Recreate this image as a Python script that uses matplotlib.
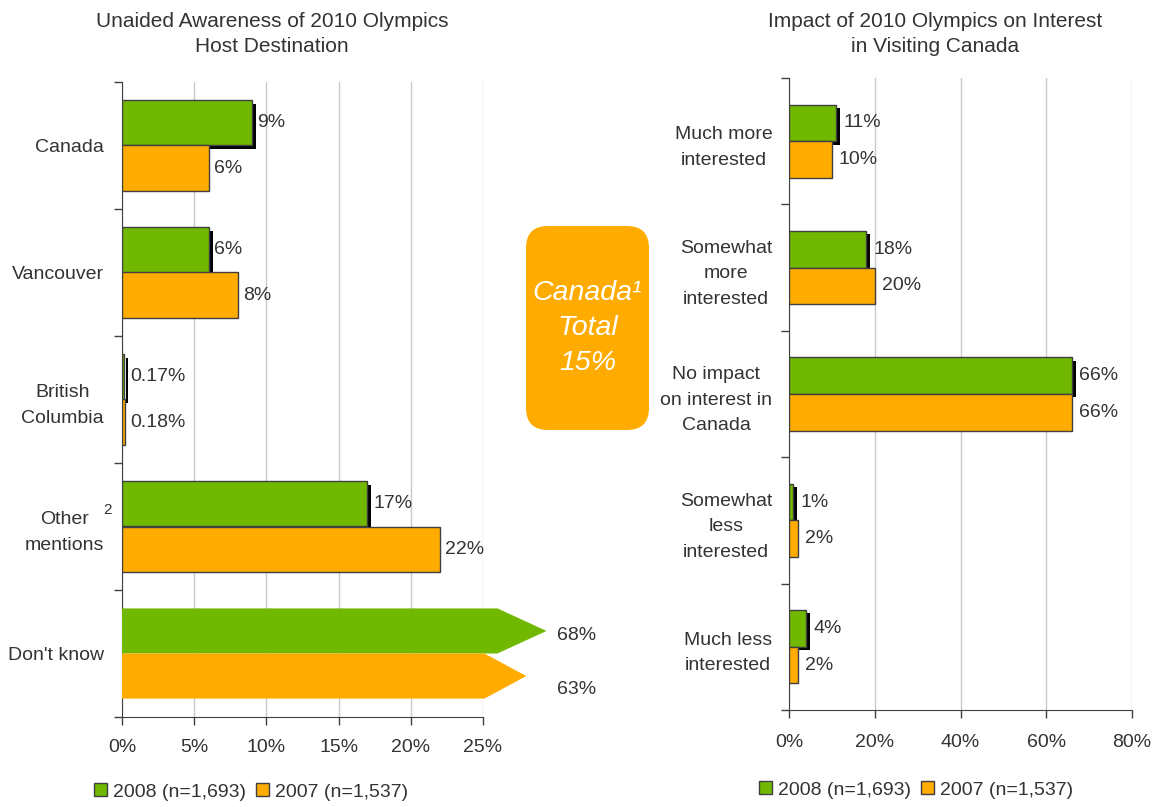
import numpy as np
import matplotlib
matplotlib.use('Agg')
import matplotlib.pyplot as plt
import matplotlib.patheffects as pe
from matplotlib.patches import Patch, Polygon, FancyBboxPatch

plt.rcParams['font.family'] = ['Liberation Sans', 'DejaVu Sans']

GREEN = '#70B900'
ORANGE = '#FFAB00'
EDGE = '#404040'
TXT = '#333333'
GRID = '#C8C8C8'

# Левая панель: спонтанная осведомлённость
left_cats = ['Canada', 'Vancouver', 'British\nColumbia', 'Other\nmentions', "Don't know"]
left_2008 = [9, 6, 0.17, 17, 68]
left_2007 = [6, 8, 0.18, 22, 63]
left_ticks = [0, 5, 10, 15, 20, 25]

# Правая панель: влияние Олимпиады на интерес
right_cats = ['Much more\ninterested', 'Somewhat\nmore\ninterested',
              'No impact\non interest in\nCanada', 'Somewhat\nless\ninterested',
              'Much less\ninterested']
right_2008 = [11, 18, 66, 1, 4]
right_2007 = [10, 20, 66, 2, 2]
right_ticks = [0, 20, 40, 60, 80]

series = ['2008 (n=1,693)', '2007 (n=1,537)']
canada_total = 15

# стрелки для значений за пределами оси: (выход тела за ось, длина наконечника)
ARROW = [(1.0, 3.4), (0.1, 2.9)]
ARROW_LABEL_DY = [-3, -10]


def panel(ax, cats, v08, v07, ticks, bar_h, ypad, xpad, lab_off):
    n = len(cats)
    y = np.arange(n)
    xmax = ticks[-1]
    ax.set_xlim(0, xmax)
    ax.set_ylim(n - 0.5, -0.5)
    shadow = [pe.SimplePatchShadow(offset=(2.8, -2.4), shadow_rgbFace='black', alpha=1.0),
              pe.Normal()]
    broken = []
    for k, (vals, off, col, fx) in enumerate(((v08, -bar_h / 2, GREEN, shadow),
                                              (v07, bar_h / 2, ORANGE, []))):
        vals = np.asarray(vals, float)
        inside = vals <= xmax
        ax.barh(y[inside] + off, vals[inside], height=bar_h, color=col,
                edgecolor=EDGE, lw=1, path_effects=fx, zorder=3)
        for yi, v in zip(y[inside], vals[inside]):
            ax.annotate(f'{v:g}%', (v, yi + off), xytext=(lab_off, 0),
                        textcoords='offset points', va='center', ha='left',
                        fontsize=14, color=TXT)
        for yi, v in zip(y[~inside], vals[~inside]):
            body = xmax + ARROW[k][0]
            tip = body + ARROW[k][1]
            yc = yi + off
            y0, y1 = yc - bar_h / 2, yc + bar_h / 2
            ax.add_patch(Polygon([(0, y0), (body, y0), (tip, yc), (body, y1), (0, y1)],
                                 closed=True, fc=col, ec='none', clip_on=False, zorder=3))
            broken.append((tip, yc, v, k))
    if broken:
        lx = max(b[0] for b in broken) + 0.7
        for tip, yc, v, k in broken:
            ax.annotate(f'{v:g}%', (lx, yc), xytext=(0, ARROW_LABEL_DY[k]),
                        textcoords='offset points', va='center', ha='left',
                        fontsize=14, color=TXT, annotation_clip=False)

    ax.set_yticks(np.arange(n + 1) - 0.5)
    ax.set_yticklabels([])
    ax.tick_params(axis='y', which='major', length=6, width=1, color=EDGE, direction='out')
    ax.set_yticks(y, minor=True)
    ax.set_yticklabels(cats, minor=True, fontsize=14, color=TXT,
                       multialignment='center', linespacing=1.65)
    ax.tick_params(axis='y', which='minor', length=0, pad=ypad)
    ax.set_xticks(ticks)
    ax.set_xticklabels([f'{t}%' for t in ticks], fontsize=14, color=TXT)
    ax.tick_params(axis='x', length=6, width=1, color=EDGE, pad=xpad)
    ax.grid(axis='x', color=GRID, lw=1)
    ax.set_axisbelow(True)
    for s in ['top', 'right']:
        ax.spines[s].set_visible(False)
    for s in ['left', 'bottom']:
        ax.spines[s].set_color(EDGE)


fig = plt.figure(figsize=(11.7, 8.07), dpi=100)
ax1 = fig.add_axes([122 / 1170, 1 - 717 / 807, 361 / 1170, 635 / 807])
ax2 = fig.add_axes([789 / 1170, 1 - 710 / 807, 343 / 1170, 632 / 807])

panel(ax1, left_cats, left_2008, left_2007, left_ticks, 0.355, 13, 10, 4)
panel(ax2, right_cats, right_2008, right_2007, right_ticks, 0.29, 12, 11, 5)

fig.text(272 / 1170, 1 - 34 / 807, 'Unaided Awareness of 2010 Olympics\nHost Destination',
         ha='center', va='center', fontsize=15, color=TXT, linespacing=1.4)
fig.text(935 / 1170, 1 - 34 / 807, 'Impact of 2010 Olympics on Interest\nin Visiting Canada',
         ha='center', va='center', fontsize=15, color=TXT, linespacing=1.4)
fig.text(108 / 1170, 1 - 510 / 807, '2', fontsize=11, ha='center', va='center', color=TXT)

# оранжевая плашка посередине
box = FancyBboxPatch((5.26, 3.77), 1.23, 2.04, boxstyle='round,pad=0,rounding_size=0.22',
                     fc=ORANGE, ec='none', transform=fig.dpi_scale_trans)
fig.add_artist(box)
fig.text(587.5 / 1170, 1 - 328 / 807, f'Canada¹\nTotal\n{canada_total}%', ha='center',
         va='center', color='white', fontsize=20.5, style='italic', linespacing=1.45)

handles = [Patch(fc=GREEN, ec=EDGE, lw=1), Patch(fc=ORANGE, ec=EDGE, lw=1)]
for cx, cy in ((251 / 1170, 1 - 792 / 807), (916 / 1170, 1 - 790 / 807)):
    fig.legend(handles, series, loc='center', bbox_to_anchor=(cx, cy), ncol=2,
               frameon=False, fontsize=14, labelcolor=TXT, handlelength=0.65,
               handleheight=0.65, handletextpad=0.3, columnspacing=0.55,
               borderpad=0, borderaxespad=0)

fig.savefig('out.png', dpi=100)
